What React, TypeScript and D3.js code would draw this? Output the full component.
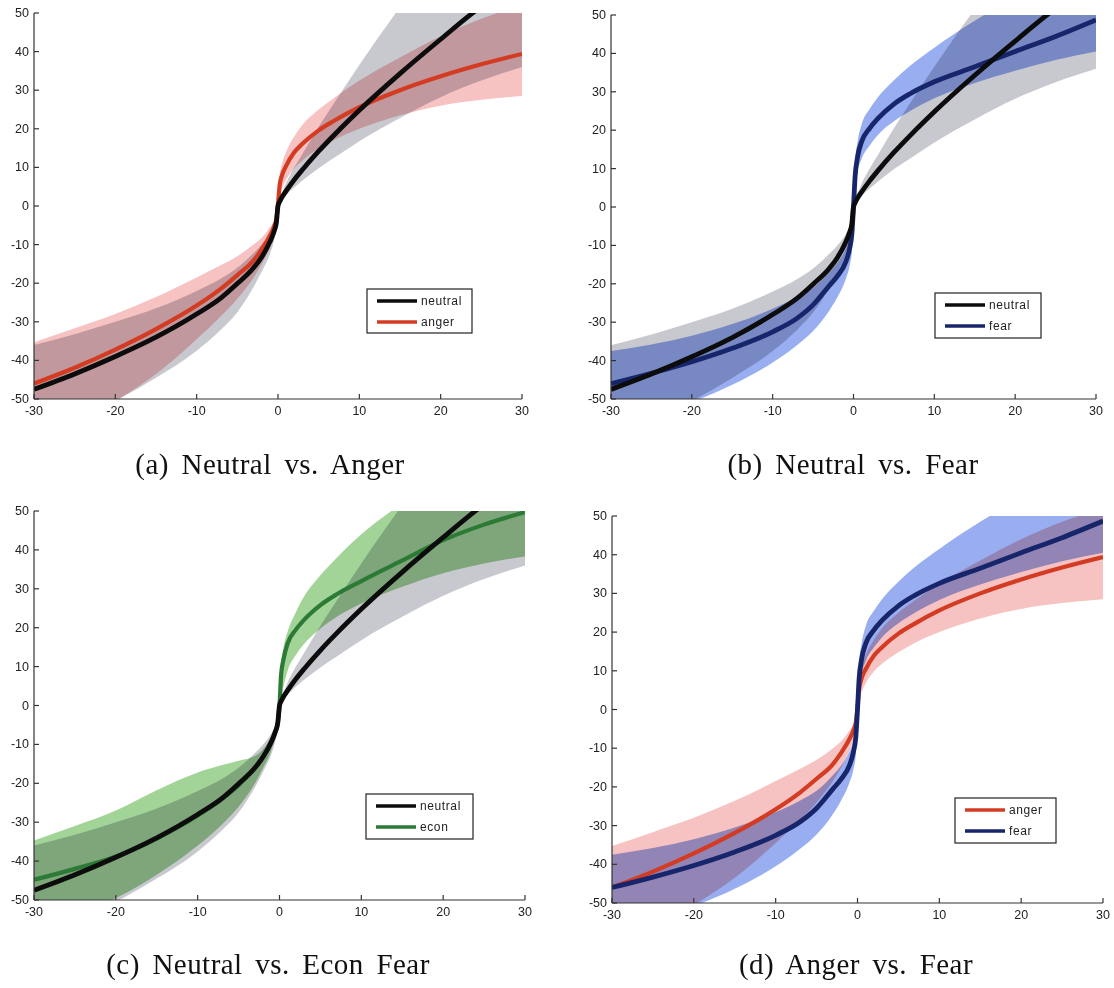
import React from "react";
import * as d3 from "d3";

// ---------- data ----------
const X = [-30, -25, -20, -15, -10, -7, -5, -3, -2, -1, -0.5, -0.2, 0, 0.2, 0.5, 1, 2, 3, 5, 7, 10, 15, 20, 25, 30];

const neutralMean = [-47.5, -43.5, -39, -34, -28, -23.8, -20.1, -16, -13.2, -9.3, -6.7, -4.3, 0, 1.1, 2.3, 3.9, 6.8, 9.4, 14.2, 18.6, 24.8, 34.3, 43.2, 51.7, 58.2];
const neutralLo = [-60, -55.5, -50.5, -44.5, -37.5, -32, -27.5, -21, -17, -12.5, -9, -5.5, -0.5, 0.5, 1.5, 2.8, 4.8, 6.6, 9.8, 12.6, 16.8, 22.8, 28.2, 32.5, 36];
const neutralHi = [-36, -33.2, -30, -26.5, -22, -18.8, -16, -12.2, -10, -7.2, -5, -3, 0.5, 2, 3.5, 6, 10, 13.5, 20.5, 27, 36.5, 51.5, 65, 77, 88];

const angerMean = [-46, -41.9, -37.2, -31.9, -25.8, -21.4, -17.9, -14.1, -11.2, -7.7, -5.4, -3.3, 0.5, 5.3, 8, 10.4, 13.9, 16.1, 19.6, 22.2, 25.6, 30, 33.6, 36.7, 39.4];
const angerLo = [-62, -56, -50.5, -43.5, -34.5, -28.5, -24, -18.5, -15, -10.8, -7.8, -5, -1, 2.5, 4.5, 6.8, 9.8, 11.8, 14.8, 17.2, 20, 23.5, 26, 27.5, 28.5];
const angerHi = [-35.3, -31.7, -28, -23.6, -18.5, -15.3, -13, -10, -8.2, -5.5, -3.8, -2, 2, 8, 11, 14, 18, 21, 25, 28.2, 32.5, 38.5, 44, 48.5, 52];

const fearMean = [-46, -43.3, -40.3, -36.8, -32.5, -29, -25.5, -20.5, -18, -14.5, -11, -7, 0, 8, 13, 17, 20.5, 23, 26.8, 29.5, 32.6, 36.5, 40.5, 44.4, 48.7];
const fearLo = [-58, -54.5, -50.8, -46.3, -40.5, -36, -32.3, -27, -23.5, -19, -15.5, -11.5, -2, 4, 9, 12.5, 16, 18.7, 22.3, 25, 28.3, 32.3, 35.5, 38.3, 40.5];
const fearHi = [-37.5, -35.8, -33.5, -30.5, -26.5, -23.5, -21, -17, -14.5, -11, -8, -4.5, 2, 12, 17, 21.5, 25.5, 28.5, 33, 36.8, 41.5, 48.5, 54.5, 60, 65];

const econMean = [-44.8, -42, -38.8, -34.2, -28.3, -24, -20.5, -16, -13.2, -9.5, -6.8, -4.3, 0, 8, 12, 16, 19.5, 22, 25.8, 28.6, 32, 37.3, 42.5, 46.5, 49.7];
const econLo = [-57, -53.5, -49.5, -43.5, -36, -30.5, -26, -20, -16, -11.5, -8, -5, -0.5, 2, 5, 9, 13, 15.8, 19.8, 22.8, 26.2, 30.5, 34, 36.5, 38.3];
const econHi = [-34.7, -31, -27, -21.8, -17.2, -15.3, -14.2, -13, -11.2, -8, -5.5, -3, 0.5, 11, 15, 19, 24, 28, 33.5, 38, 44, 52, 59, 65, 71];

const xTicks = [-30, -20, -10, 0, 10, 20, 30];
const yTicks = [-50, -40, -30, -20, -10, 0, 10, 20, 30, 40, 50];

const seriesData: Record<string, { mean: number[]; lo: number[]; hi: number[] }> = {
  neutral: { mean: neutralMean, lo: neutralLo, hi: neutralHi },
  anger: { mean: angerMean, lo: angerLo, hi: angerHi },
  fear: { mean: fearMean, lo: fearLo, hi: fearHi },
  econ: { mean: econMean, lo: econLo, hi: econHi },
};

// ---------- styles / layout ----------
const seriesStyle: Record<string, { line: string; band: string; width: number }> = {
  neutral: { line: "#0c0c0c", band: "#c8c8cf", width: 4.8 },
  anger: { line: "#d33b22", band: "#f7c2c2", width: 4.2 },
  fear: { line: "#17256b", band: "#98aef0", width: 4.8 },
  econ: { line: "#2c7a36", band: "#a2d498", width: 4.2 },
};

const panels = [
  { key: "a", caption: "(a) Neutral vs. Anger", series: ["neutral", "anger"], top: "neutral",
    box: { l: 34, r: 522, t: 13, b: 399 }, legend: { x: 367, y: 289, w: 105, h: 44 }, cap: { x: 270, y: 474 } },
  { key: "b", caption: "(b) Neutral vs. Fear", series: ["neutral", "fear"], top: "neutral",
    box: { l: 611, r: 1096, t: 15, b: 399 }, legend: { x: 935, y: 293, w: 106, h: 45 }, cap: { x: 853, y: 474 } },
  { key: "c", caption: "(c) Neutral vs. Econ Fear", series: ["neutral", "econ"], top: "neutral",
    box: { l: 34, r: 525, t: 511, b: 900 }, legend: { x: 366, y: 794, w: 107, h: 45 }, cap: { x: 268, y: 974 } },
  { key: "d", caption: "(d) Anger vs. Fear", series: ["anger", "fear"], top: "fear",
    box: { l: 612, r: 1103, t: 516, b: 903 }, legend: { x: 955, y: 798, w: 101, h: 45 }, cap: { x: 856, y: 974 } },
];

const SANS = "'Liberation Sans', Arial, sans-serif";
const SERIF = "'Liberation Serif', 'Times New Roman', serif";

function Panel({ p }: { p: (typeof panels)[number] }) {
  const x = d3.scaleLinear().domain([-30, 30]).range([p.box.l, p.box.r]);
  const y = d3.scaleLinear().domain([-50, 50]).range([p.box.b, p.box.t]);
  const clipId = `clip-${p.key}`;

  const area = d3
    .area<number>()
    .x((_, i) => x(X[i]))
    .curve(d3.curveMonotoneX);
  const line = d3
    .line<number>()
    .x((_, i) => x(X[i]))
    .y((v) => y(v))
    .curve(d3.curveMonotoneX);

  const bandPath = (name: string) => {
    const s = seriesData[name];
    return area.y0((_, i) => y(s.lo[i])).y1((_, i) => y(s.hi[i]))(s.mean) || "";
  };

  const lineOrder = [...p.series.filter((s) => s !== p.top), p.top];

  return (
    <g>
      <defs>
        <clipPath id={clipId}>
          <rect x={p.box.l} y={p.box.t} width={p.box.r - p.box.l} height={p.box.b - p.box.t} />
        </clipPath>
      </defs>
      <g clipPath={`url(#${clipId})`}>
        <g style={{ isolation: "isolate" }}>
          {p.series.map((s) => (
            <path key={s} d={bandPath(s)} fill={seriesStyle[s].band} style={{ mixBlendMode: "multiply" }} />
          ))}
        </g>
        {lineOrder.map((s) => (
          <path
            key={s}
            d={line(seriesData[s].mean) || ""}
            fill="none"
            stroke={seriesStyle[s].line}
            strokeWidth={seriesStyle[s].width}
            strokeLinejoin="round"
          />
        ))}
      </g>
      {/* axes */}
      <line x1={p.box.l} x2={p.box.l} y1={p.box.t} y2={p.box.b} stroke="#333" strokeWidth={1.2} />
      <line x1={p.box.l} x2={p.box.r} y1={p.box.b} y2={p.box.b} stroke="#333" strokeWidth={1.2} />
      {xTicks.map((t) => (
        <g key={`x${t}`}>
          <line x1={x(t)} x2={x(t)} y1={p.box.b} y2={p.box.b - 5} stroke="#333" strokeWidth={1.2} />
          <text x={x(t)} y={p.box.b + 16} textAnchor="middle" fontFamily={SANS} fontSize={12.5} fill="#222">
            {t}
          </text>
        </g>
      ))}
      {yTicks.map((t) => (
        <g key={`y${t}`}>
          <line x1={p.box.l} x2={p.box.l + 5} y1={y(t)} y2={y(t)} stroke="#333" strokeWidth={1.2} />
          <text x={p.box.l - 5} y={y(t) + 4} textAnchor="end" fontFamily={SANS} fontSize={12.5} fill="#222">
            {t}
          </text>
        </g>
      ))}
      {/* legend */}
      <rect x={p.legend.x} y={p.legend.y} width={p.legend.w} height={p.legend.h} fill="#fff" stroke="#222" strokeWidth={1.2} />
      {p.series.map((s, i) => {
        const ly = p.legend.y + 12 + i * 21;
        return (
          <g key={`lg${s}`}>
            <line x1={p.legend.x + 10} x2={p.legend.x + 50} y1={ly} y2={ly} stroke={seriesStyle[s].line} strokeWidth={3.5} />
            <text x={p.legend.x + 54} y={ly + 4} fontFamily={SANS} fontSize={12} letterSpacing={0.6} fill="#222">
              {s}
            </text>
          </g>
        );
      })}
      {/* caption */}
      <text x={p.cap.x} y={p.cap.y} textAnchor="middle" fontFamily={SERIF} fontSize={29} letterSpacing={0.45} wordSpacing={5} fill="#111">
        {p.caption}
      </text>
    </g>
  );
}

export default function App() {
  return (
    <>
      <style>{`body{margin:0;background:#fff}`}</style>
      <svg width={1114} height={988} viewBox="0 0 1114 988" style={{ display: "block", background: "#fff" }}>
        {panels.map((p) => (
          <Panel key={p.key} p={p} />
        ))}
      </svg>
    </>
  );
}
